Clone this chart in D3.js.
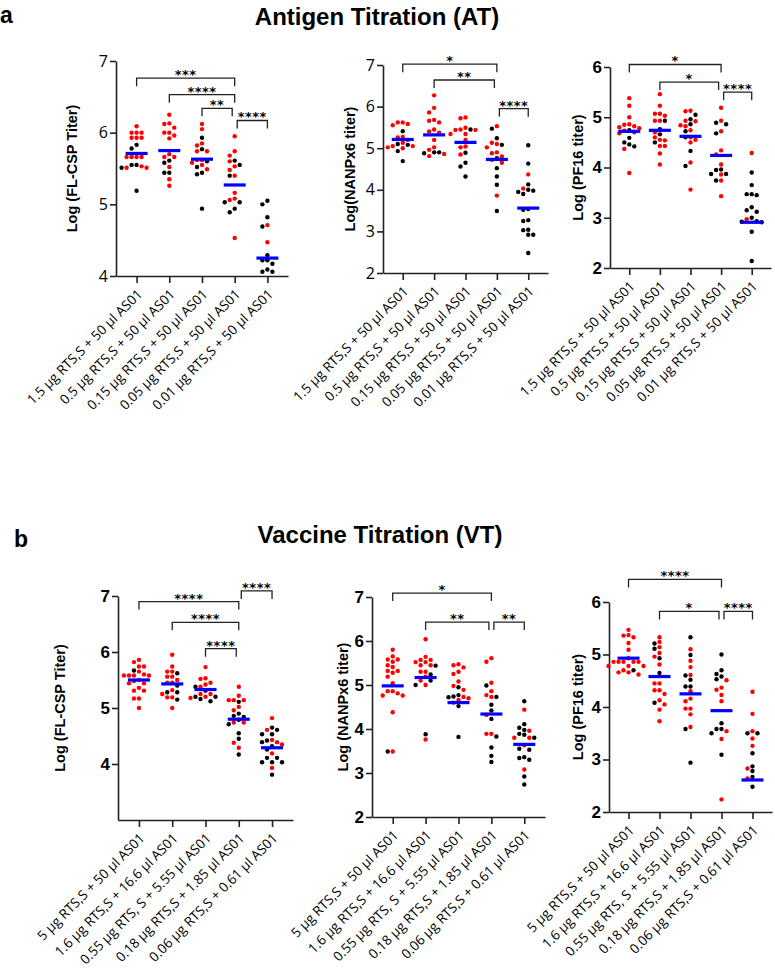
<!DOCTYPE html>
<html>
<head>
<meta charset="utf-8">
<script src="https://cdn.jsdelivr.net/npm/d3@7"></script>
<style>
  body { margin: 0; background: #fff; }
  svg text { font-family: "Open Sans", sans-serif; fill: #000; }
</style>
</head>
<body>
<svg id="fig" width="775" height="976"></svg>
<script>
// categorias
const atCategories = [
  '1.5 µg RTS,S + 50 µl AS01',
  '0.5 µg RTS,S + 50 µl AS01',
  '0.15 µg RTS,S + 50 µl AS01',
  '0.05 µg RTS,S + 50 µl AS01',
  '0.01 µg RTS,S + 50 µl AS01',
];
const vtCategories = [
  '5 µg  RTS,S + 50 µl AS01',
  '1.6 µg RTS,S + 16.6 µl AS01',
  '0.55 µg RTS, S + 5.55 µl AS01',
  '0.18 µg RTS,S + 1.85 µl AS01',
  '0.06 µg RTS,S + 0.61 µl AS01',
];

// ---- a: FL-CSP ----
const atFlcspRed = [
  [6.09, 6.0, 6.0, 6.0, 5.93, 5.93, 5.93, 5.66, 5.66, 5.66, 5.66, 5.53, 5.51, 5.51],
  [6.25, 6.13, 6.12, 6.07, 6.0, 6.0, 5.96, 5.92, 5.70, 5.66, 5.66, 5.52, 5.35, 5.26],
  [6.12, 6.05, 5.85, 5.82, 5.74, 5.74, 5.62, 5.62, 5.58, 5.55, 5.49],
  [5.95, 5.74, 5.68, 5.60, 5.53, 5.48, 5.40, 5.16, 5.08, 5.06, 4.53],
  [4.71, 4.47],
];
const atFlcspBlack = [
  [5.83, 5.78, 5.55, 5.55, 5.51, 5.19],
  [5.61, 5.58, 5.44, 5.44],
  [5.93, 5.77, 5.60, 5.52, 5.44, 5.42, 4.94],
  [5.61, 5.55, 5.40, 5.03, 5.03, 4.94, 4.89],
  [5.05, 5.00, 4.82, 4.69, 4.29, 4.22, 4.22, 4.17, 4.09, 4.06, 4.06],
];
const atFlcspMedian = [5.71, 5.75, 5.63, 5.27, 4.25];
const atFlcspSig = [[0, 3, 6.76, '***'], [1, 3, 6.53, '****'], [2, 3, 6.34, '**'], [3, 4, 6.17, '****']];
const atFlcspTicks = [4, 5, 6, 7];

// ---- a: NANPx6 ----
const atNanpRed = [
  [5.62, 5.62, 5.58, 5.55, 5.27, 5.26, 5.20, 5.13, 5.05, 5.05, 5.02, 5.0],
  [6.27, 5.97, 5.86, 5.68, 5.66, 5.62, 5.45, 5.40, 5.37, 5.20, 5.02, 4.96, 4.86, 4.81],
  [5.74, 5.72, 5.49, 5.45, 5.44, 5.44, 5.34, 5.34, 5.20, 5.04, 5.02, 4.85],
  [5.53, 5.13, 5.10, 5.02, 4.90, 4.88, 4.80, 4.72, 4.65, 3.86],
  [4.37, 4.03],
];
const atNanpBlack = [
  [5.41, 5.10, 5.08, 4.93, 4.69],
  [4.90, 4.90, 4.88],
  [5.45, 4.89, 4.65, 4.56, 4.32],
  [5.47, 5.24, 5.08, 4.76, 4.52, 4.32, 4.12, 3.49],
  [5.07, 4.63, 4.13, 4.0, 3.98, 3.95, 3.90, 3.54, 3.52, 3.27, 3.25, 3.04, 3.03, 2.92, 2.92, 2.48],
];
const atNanpMedian = [5.21, 5.32, 5.14, 4.73, 3.56];
const atNanpSig = [[0, 3, 7.02, '*'], [1, 3, 6.64, '**'], [3, 4, 5.95, '****']];
const atNanpTicks = [2, 3, 4, 5, 6, 7];

// ---- a: PF16 ----
const atPf16Red = [
  [5.38, 5.23, 5.0, 4.86, 4.85, 4.82, 4.80, 4.78, 4.73, 4.70, 4.68, 4.37, 3.89],
  [5.46, 5.23, 5.07, 5.07, 5.03, 4.93, 4.93, 4.70, 4.60, 4.55, 4.54, 4.43, 4.43, 4.28, 4.06],
  [5.13, 5.12, 4.93, 4.92, 4.84, 4.82, 4.74, 4.60, 4.55, 4.50, 4.10, 3.56],
  [5.19, 4.93, 4.72, 4.34, 4.26, 4.06, 3.86, 3.74, 3.43],
  [4.29, 2.97],
];
const atPf16Black = [
  [4.74, 4.59, 4.50, 4.46, 4.42],
  [4.93, 4.76, 4.66, 4.50],
  [5.05, 4.96, 4.86, 4.72, 4.60, 4.33, 4.03],
  [4.89, 4.86, 4.68, 3.96, 3.95, 3.87, 3.87, 3.74],
  [3.90, 3.65, 3.47, 3.47, 3.45, 3.21, 3.15, 3.12, 3.0, 2.93, 2.92, 2.91, 2.72, 2.14],
];
const atPf16Median = [4.72, 4.74, 4.62, 4.24, 2.91];
const atPf16Sig = [[0, 3, 6.05, '*'], [1, 3, 5.70, '*'], [3, 4, 5.50, '****']];
const atPf16Ticks = [2, 3, 4, 5, 6];

// ---- b: FL-CSP ----
const vtFlcspRed = [
  [5.86, 5.82, 5.74, 5.74, 5.65, 5.60, 5.58, 5.58, 5.58, 5.58, 5.50, 5.48, 5.44, 5.44, 5.36, 5.31, 5.31, 5.17, 5.17, 5.0],
  [5.95, 5.74, 5.65, 5.65, 5.56, 5.56, 5.50, 5.45, 5.45, 5.32, 5.25, 5.19, 5.19, 5.0],
  [5.73, 5.53, 5.52, 5.45, 5.42, 5.38, 5.25, 5.25, 5.20, 5.18],
  [5.38, 5.22, 5.14, 5.14, 5.14, 5.02, 4.96, 4.74, 4.74, 4.38, 4.29],
  [4.82, 4.61, 4.43, 4.39, 4.35, 4.19, 3.93],
];
const vtFlcspBlack = [
  [5.67],
  [5.62, 5.40, 5.28, 5.28, 5.15],
  [5.38, 5.31, 5.20, 5.20, 5.16, 5.12],
  [5.11, 4.90, 4.86, 4.84, 4.79, 4.71, 4.55, 4.45, 4.17],
  [4.65, 4.61, 4.53, 4.53, 4.42, 4.39, 4.32, 4.26, 4.11, 4.11, 4.03, 4.03, 4.03, 3.81],
];
const vtFlcspMedian = [5.50, 5.43, 5.33, 4.80, 4.29];
const vtFlcspSig = [[0, 3, 6.90, '****'], [1, 3, 6.53, '****'], [2, 3, 6.06, '****'], [3, 4, 7.09, '****']];
const vtFlcspTicks = [4, 5, 6, 7];

// ---- b: NANPx6 ----
const vtNanpRed = [
  [5.80, 5.65, 5.58, 5.58, 5.53, 5.45, 5.41, 5.32, 5.32, 5.28, 5.19, 5.04, 4.86, 4.86, 4.81, 4.76, 4.76, 4.38, 3.49],
  [6.04, 5.64, 5.57, 5.57, 5.52, 5.52, 5.45, 5.45, 5.30, 5.30, 5.19, 5.10, 5.0, 3.76],
  [5.47, 5.45, 5.40, 5.30, 5.25, 5.08, 4.98, 4.89, 4.73, 4.70, 4.66, 4.60],
  [5.61, 5.53, 5.05, 4.86, 4.77, 4.73, 4.32, 3.89, 3.89],
  [4.44, 3.96, 3.80, 3.80, 3.63, 3.08],
];
const vtNanpBlack = [
  [3.49],
  [5.44, 5.24, 5.10, 5.0, 3.88],
  [4.95, 4.77, 4.74, 4.72, 4.52, 3.82],
  [4.99, 4.73, 4.55, 4.42, 4.23, 3.83, 3.58, 3.39, 3.25],
  [4.63, 4.11, 4.03, 3.98, 3.89, 3.87, 3.80, 3.55, 3.53, 3.36, 3.34, 3.30, 2.92, 2.74],
];
const vtNanpMedian = [4.98, 5.17, 4.60, 4.34, 3.65];
const vtNanpSig = [[0, 3, 7.09, '*'], [1, 3, 6.43, '**'], [3, 4, 6.43, '**']];
const vtNanpTicks = [2, 3, 4, 5, 6, 7];

// ---- b: PF16 ----
const vtPf16Red = [
  [5.47, 5.37, 5.36, 5.33, 5.22, 5.09, 4.93, 4.86, 4.86, 4.86, 4.86, 4.86, 4.78, 4.78, 4.78, 4.70, 4.66, 4.66, 4.62],
  [5.33, 5.24, 5.14, 5.03, 4.96, 4.81, 4.45, 4.45, 4.32, 4.32, 4.25, 4.13, 4.05, 3.95, 3.73],
  [5.10, 4.88, 4.76, 4.61, 4.30, 4.16, 4.11, 3.97, 3.97, 3.86, 3.62],
  [4.51, 4.37, 4.33, 4.23, 4.11, 3.54, 3.39, 2.24],
  [4.29, 3.87, 3.54, 3.40, 3.26, 2.83, 2.64],
];
const vtPf16Black = [
  [4.70],
  [5.21, 5.11, 4.93, 4.65, 4.08],
  [5.33, 4.99, 4.60, 4.52, 4.39, 4.39, 3.58, 2.94],
  [5.0, 4.70, 4.63, 4.58, 4.53, 3.69, 3.58, 3.58, 3.50, 3.09],
  [3.50, 3.50, 3.12, 2.87, 2.78, 2.67, 2.48],
];
const vtPf16Median = [4.93, 4.58, 4.25, 3.93, 2.61];
const vtPf16Sig = [[0, 3, 6.43, '****'], [1, 3, 5.82, '*'], [3, 4, 5.82, '****']];
const vtPf16Ticks = [2, 3, 4, 5, 6];

// ----------------------------
const svg = d3.select('#fig');

const panels = [
  { cats: atCategories, red: atFlcspRed, black: atFlcspBlack, median: atFlcspMedian, sig: atFlcspSig,
    ticks: atFlcspTicks, domain: [4, 7], label: 'Log (FL-CSP Titer)',
    left: 116, right: 288, top: 61, bottom: 276, labelX: 77, boldTicks: false },
  { cats: atCategories, red: atNanpRed, black: atNanpBlack, median: atNanpMedian, sig: atNanpSig,
    ticks: atNanpTicks, domain: [2, 7], label: 'Log(NANPx6 titer)',
    left: 383, right: 548, top: 65, bottom: 273, labelX: 355, boldTicks: false },
  { cats: atCategories, red: atPf16Red, black: atPf16Black, median: atPf16Median, sig: atPf16Sig,
    ticks: atPf16Ticks, domain: [2, 6], label: 'Log (PF16 titer)',
    left: 610, right: 771, top: 67, bottom: 268, labelX: 583, boldTicks: true },
  { cats: vtCategories, red: vtFlcspRed, black: vtFlcspBlack, median: vtFlcspMedian, sig: vtFlcspSig,
    ticks: vtFlcspTicks, domain: [3, 7], label: 'Log (FL-CSP Titer)',
    left: 118, right: 293, top: 596, bottom: 820, labelX: 65, boldTicks: true },
  { cats: vtCategories, red: vtNanpRed, black: vtNanpBlack, median: vtNanpMedian, sig: vtNanpSig,
    ticks: vtNanpTicks, domain: [2, 7], label: 'Log (NANPx6 titer)',
    left: 372, right: 545, top: 597, bottom: 817, labelX: 348, boldTicks: true },
  { cats: vtCategories, red: vtPf16Red, black: vtPf16Black, median: vtPf16Median, sig: vtPf16Sig,
    ticks: vtPf16Ticks, domain: [2, 6], label: 'Log (PF16 titer)',
    left: 609, right: 772, top: 602, bottom: 812, labelX: 583, boldTicks: true },
];

// beeswarm simples (determinístico)
function swarm(values, yScale, step, minDist) {
  const sorted = values.slice().sort((a, b) => b.v - a.v);
  const placed = [];
  sorted.forEach(d => {
    const py = yScale(d.v);
    for (let k = 0; k < 40; k++) {
      const off = k === 0 ? 0 : (k % 2 ? -1 : 1) * Math.ceil(k / 2) * step;
      const clash = placed.some(p => Math.hypot(p.dx - off, p.py - py) < minDist);
      if (!clash) {
        placed.push({ ...d, dx: off, py });
        break;
      }
    }
  });
  return placed;
}

function drawPanel(p) {
  const g = svg.append('g');
  const y = d3.scaleLinear().domain(p.domain).range([p.bottom, p.top]);
  const x = d3.scalePoint().domain(d3.range(p.cats.length)).range([p.left, p.right]).padding(0.63);

  // eixo y
  const yAxis = g.append('g')
    .attr('transform', `translate(${p.left},0)`)
    .call(d3.axisLeft(y).tickValues(p.ticks).tickFormat(d3.format('d')).tickSize(6).tickSizeOuter(0).tickPadding(2));
  yAxis.selectAll('path, line').attr('stroke', '#222').attr('stroke-width', 1.6);
  yAxis.selectAll('text')
    .style('font-family', p.boldTicks ? 'Liberation Sans, Arial, sans-serif' : '"Open Sans", sans-serif')
    .style('font-size', p.boldTicks ? '17px' : '16px')
    .style('font-weight', p.boldTicks ? 'bold' : 'normal')
    .attr('fill', '#000');

  // eixo x
  const xAxis = g.append('g')
    .attr('transform', `translate(0,${p.bottom})`)
    .call(d3.axisBottom(x).tickSize(7).tickSizeOuter(0).tickFormat(i => p.cats[i]));
  xAxis.selectAll('path, line').attr('stroke', '#222').attr('stroke-width', 1.6);
  xAxis.selectAll('text')
    .attr('y', 0).attr('dy', 0)
    .attr('transform', 'translate(6,19) rotate(-45)')
    .style('text-anchor', 'end')
    .style('font-size', '13.5px')
    .attr('fill', '#000');

  // label do eixo y
  g.append('text')
    .attr('transform', `translate(${p.labelX},${(p.top + p.bottom) / 2}) rotate(-90)`)
    .attr('text-anchor', 'middle')
    .style('font-family', 'Liberation Sans, Arial, sans-serif')
    .style('font-weight', 'bold')
    .style('font-size', '14.5px')
    .text(p.label);

  // pontos
  p.cats.forEach((c, i) => {
    const vals = p.red[i].map(v => ({ v, color: '#ff0000' }))
      .concat(p.black[i].map(v => ({ v, color: '#000000' })));
    const pts = swarm(vals, y, 5, 4.6);
    g.append('g').selectAll('circle')
      .data(pts)
      .join('circle')
      .attr('cx', d => x(i) + d.dx)
      .attr('cy', d => d.py)
      .attr('r', 2.2)
      .attr('fill', d => d.color);
  });

  // medianas
  g.append('g').selectAll('rect')
    .data(p.median)
    .join('rect')
    .attr('x', (d, i) => x(i) - 11)
    .attr('y', d => y(d) - 1.6)
    .attr('width', 22)
    .attr('height', 3.2)
    .attr('fill', '#0000ff');

  // brackets de significância
  const inset = 2.5;
  p.sig.forEach(s => {
    const [a, b, lvl, lab] = s;
    let x1 = x(a), x2 = x(b);
    const endsHere = p.sig.filter(o => o[1] === b);
    const lowest = endsHere.reduce((m, o) => (o[2] < m[2] ? o : m), endsHere[0]);
    if (p.sig.some(o => o[0] === b) && lowest === s) x2 -= inset;
    if (p.sig.some(o => o[1] === a && o !== s)) x1 += inset;
    const yy = y(lvl);
    g.append('path')
      .attr('d', `M${x1},${yy + 8}V${yy}H${x2}V${yy + 8}`)
      .attr('fill', 'none')
      .attr('stroke', '#222')
      .attr('stroke-width', 1.3);
    g.append('text')
      .attr('x', (x1 + x2) / 2)
      .attr('y', yy + 1)
      .attr('text-anchor', 'middle')
      .style('font-family', '"DejaVu Sans", sans-serif')
      .style('font-size', '13px')
      .style('font-weight', 'bold')
      .style('letter-spacing', '0.5px')
      .attr('fill', '#222')
      .text(lab);
  });
}

panels.forEach(drawPanel);

// títulos
svg.append('text')
  .attr('x', 377).attr('y', 25)
  .attr('text-anchor', 'middle')
  .style('font-family', 'Liberation Sans, Arial, sans-serif')
  .style('font-weight', 'bold').style('font-size', '24px')
  .text('Antigen Titration (AT)');
svg.append('text')
  .attr('x', 380).attr('y', 543)
  .attr('text-anchor', 'middle')
  .style('font-family', 'Liberation Sans, Arial, sans-serif')
  .style('font-weight', 'bold').style('font-size', '24px')
  .text('Vaccine Titration (VT)');
svg.append('text')
  .attr('x', 0).attr('y', 23)
  .style('font-family', 'Liberation Sans, Arial, sans-serif')
  .style('font-weight', 'bold').style('font-size', '23px')
  .text('a');
svg.append('text')
  .attr('x', 14).attr('y', 547)
  .style('font-family', 'Liberation Sans, Arial, sans-serif')
  .style('font-weight', 'bold').style('font-size', '23px')
  .text('b');
</script>
</body>
</html>
